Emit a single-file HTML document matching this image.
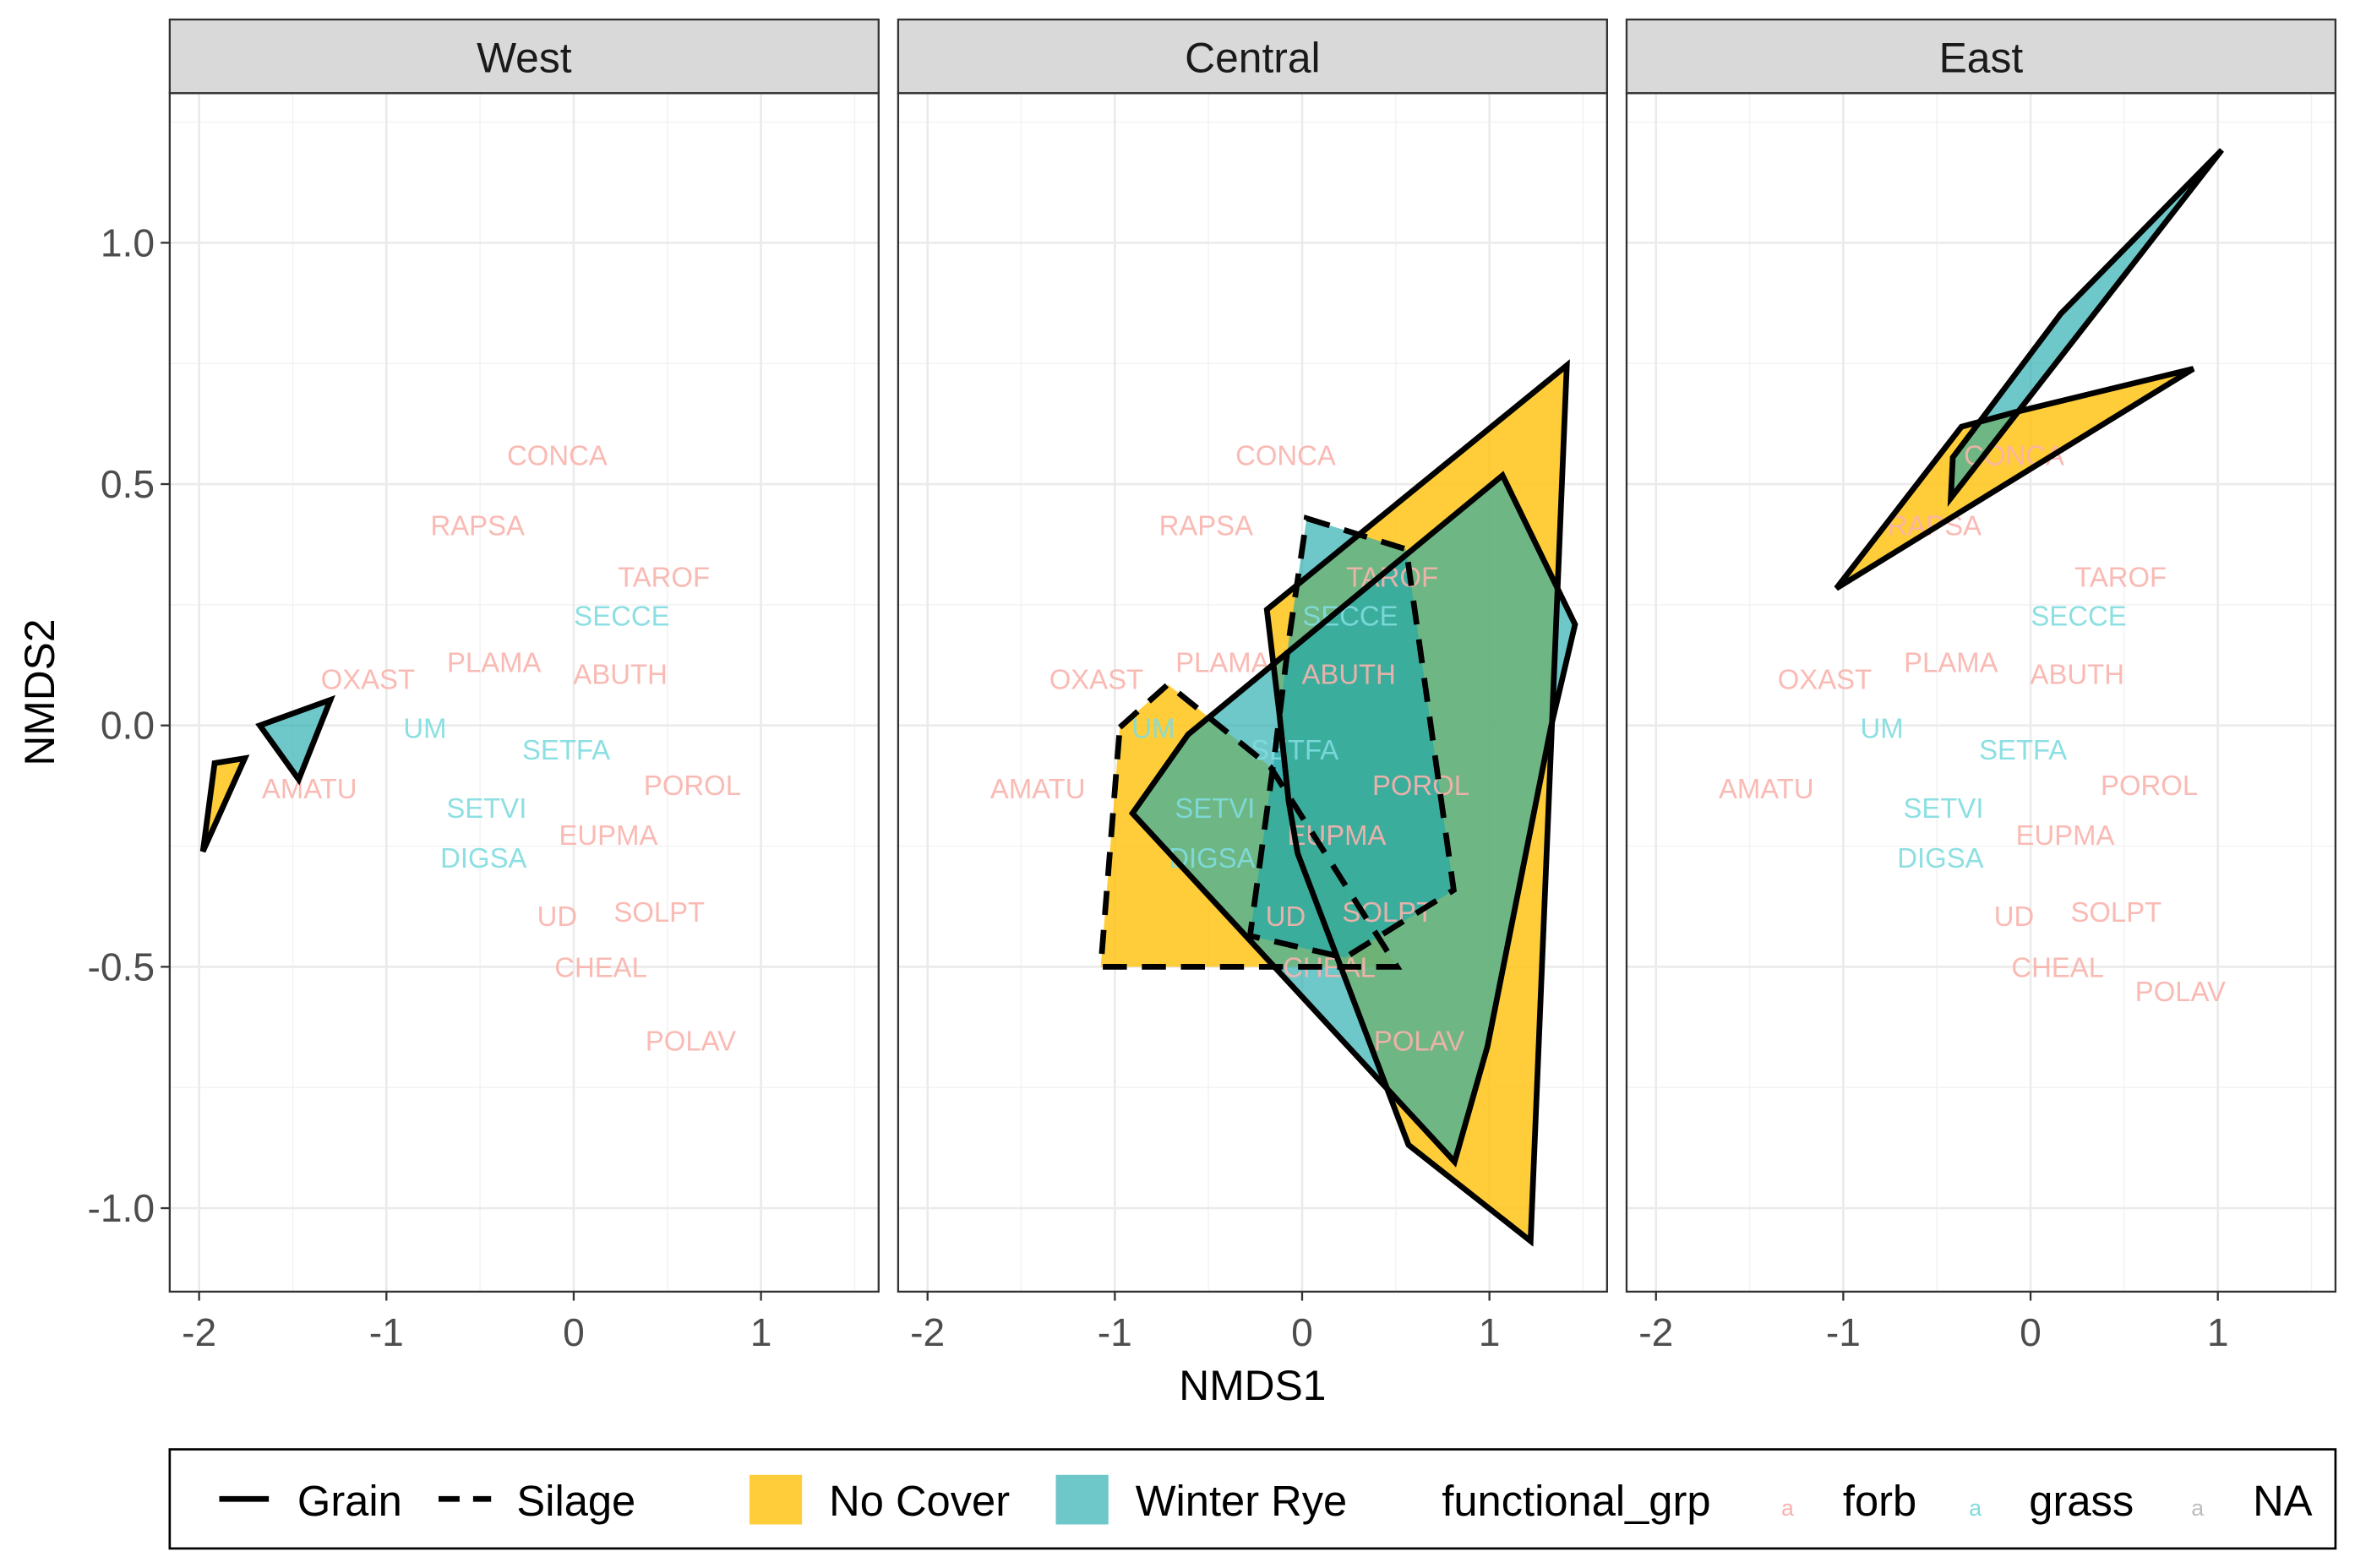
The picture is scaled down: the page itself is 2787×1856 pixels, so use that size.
<!DOCTYPE html>
<html><head><meta charset="utf-8"><style>
html,body{margin:0;padding:0;background:#fff}
svg{display:block}
text{font-family:"Liberation Sans",Arial,sans-serif}
</style></head><body>
<svg id="chart" width="2787" height="1856" viewBox="0 0 1568 1044" preserveAspectRatio="none" xmlns="http://www.w3.org/2000/svg">
<rect x="0" y="0" width="1568" height="1044" fill="#fff"/>
</svg>
<script>
// ---- data ----
const panels = ["West","Central","East"];
const xTicks = [-2,-1,0,1];
const xTickLabels = ["-2","-1","0","1"];
const yTicks = [1.0,0.5,0.0,-0.5,-1.0];
const yTickLabels = ["1.0","0.5","0.0","-0.5","-1.0"];
const speciesNames = ["CONCA","RAPSA","TAROF","SECCE","PLAMA","ABUTH","OXAST","UM","SETFA","AMATU","POROL","SETVI","EUPMA","DIGSA","UD","SOLPT","CHEAL","POLAV"];
const speciesX = [-0.088,-0.513,0.481,0.257,-0.425,0.249,-1.099,-0.794,-0.04,-1.411,0.634,-0.465,0.185,-0.481,-0.088,0.457,0.145,0.625];
const speciesY = [0.56,0.414,0.308,0.227,0.131,0.106,0.096,-0.006,-0.05,-0.131,-0.124,-0.171,-0.227,-0.274,-0.395,-0.386,-0.501,-0.653];
const speciesGroup = ["forb","forb","forb","grass","forb","forb","forb","grass","grass","forb","forb","grass","forb","grass","forb","forb","forb","forb"];
const eastPolavX = 0.8;
const eastPolavY = -0.551;
const westGrainNoCoverX = [-1.98,-1.917,-1.756];
const westGrainNoCoverY = [-0.261,-0.078,-0.068];
const westGrainRyeX = [-1.676,-1.299,-1.468];
const westGrainRyeY = [0,0.053,-0.112];
const centralGrainNoCoverX = [-0.188,1.413,1.22,0.568,-0.024,-0.072,-0.121];
const centralGrainNoCoverY = [0.24,0.746,-1.068,-0.869,-0.265,-0.157,0.022];
const centralGrainRyeX = [-0.609,1.07,1.457,1.328,0.99,0.814,-0.906];
const centralGrainRyeY = [-0.019,0.518,0.209,-0.004,-0.665,-0.904,-0.182];
const centralSilageNoCoverX = [-0.973,-0.717,-0.169,0.507,-1.075];
const centralSilageNoCoverY = [-0.004,0.085,-0.086,-0.5,-0.5];
const centralSilageRyeX = [0.024,0.556,0.809,0.229,-0.278,-0.145,-0.072];
const centralSilageRyeY = [0.429,0.365,-0.341,-0.481,-0.436,-0.055,0.174];
const eastGrainNoCoverX = [-1.037,-0.369,-0.081,0.869];
const eastGrainNoCoverY = [0.284,0.619,0.649,0.739];
const eastGrainRyeX = [-0.426,-0.415,0.161,1.021];
const eastGrainRyeY = [0.471,0.555,0.853,1.192];

const hulls = [
 {p:0,till:"Grain",cover:"No Cover",xs:westGrainNoCoverX,ys:westGrainNoCoverY,name:"west-grain-no-cover-hull"},
 {p:0,till:"Grain",cover:"Winter Rye",xs:westGrainRyeX,ys:westGrainRyeY,name:"west-grain-winter-rye-hull"},
 {p:1,till:"Grain",cover:"No Cover",xs:centralGrainNoCoverX,ys:centralGrainNoCoverY,name:"central-grain-no-cover-hull"},
 {p:1,till:"Silage",cover:"No Cover",xs:centralSilageNoCoverX,ys:centralSilageNoCoverY,name:"central-silage-no-cover-hull"},
 {p:1,till:"Silage",cover:"Winter Rye",xs:centralSilageRyeX,ys:centralSilageRyeY,name:"central-silage-winter-rye-hull"},
 {p:1,till:"Grain",cover:"Winter Rye",xs:centralGrainRyeX,ys:centralGrainRyeY,name:"central-grain-winter-rye-hull"},
 {p:2,till:"Grain",cover:"No Cover",xs:eastGrainNoCoverX,ys:eastGrainNoCoverY,name:"east-grain-no-cover-hull"},
 {p:2,till:"Grain",cover:"Winter Rye",xs:eastGrainRyeX,ys:eastGrainRyeY,name:"east-grain-winter-rye-hull"}
];

// ---- layout ----
const NS="http://www.w3.org/2000/svg";
const svg=document.getElementById('chart');
const panelLeft=[113,598,1083], panelW=472, plotTop=62, plotBottom=860;
const xMin=-2.157, xMax=1.628, yMin=-1.173, yMax=1.31;
function sx(p,v){return panelLeft[p]+(v-xMin)/(xMax-xMin)*panelW;}
function sy(v){return plotBottom-(v-yMin)/(yMax-yMin)*(plotBottom-plotTop);}
function mk(tag,attrs,parent){const e=document.createElementNS(NS,tag);for(const k in attrs)e.setAttribute(k,attrs[k]);(parent||svg).appendChild(e);return e;}
const fillCol={"No Cover":"#FFC20E","Winter Rye":"#21A9AB"};
const fillOp={"No Cover":0.82,"Winter Rye":0.65};
const labCol={forb:"#F9B2AC",grass:"#7FDCDF"};

panels.forEach((name,p)=>{
  const g=mk('g',{});
  
  
  const L=panelLeft[p];
  [-1.5,-0.5,0.5,1.5].forEach(v=>{const l=mk('line',{x1:sx(p,v),x2:sx(p,v),y1:plotTop,y2:plotBottom,stroke:'#F2F2F2','stroke-width':0.8},g);
    });
  [1.25,0.75,0.25,-0.25,-0.75].forEach(v=>{const l=mk('line',{x1:L,x2:L+panelW,y1:sy(v),y2:sy(v),stroke:'#F2F2F2','stroke-width':0.8},g);
    });
  xTicks.forEach(v=>{const l=mk('line',{x1:sx(p,v),x2:sx(p,v),y1:plotTop,y2:plotBottom,stroke:'#EBEBEB','stroke-width':1.5},g);
    });
  yTicks.forEach(v=>{const l=mk('line',{x1:L,x2:L+panelW,y1:sy(v),y2:sy(v),stroke:'#EBEBEB','stroke-width':1.5},g);
    });
  const ph=hulls.filter(h=>h.p===p);
  const pts=h=>h.xs.map((v,i)=>sx(p,v).toFixed(1)+','+sy(h.ys[i]).toFixed(1)).join(' ');
  ph.forEach(h=>{
    const pg=mk('polygon',{points:pts(h),fill:fillCol[h.cover],'fill-opacity':fillOp[h.cover],stroke:'none'},g);
    
    
  });
  speciesNames.forEach((s,i)=>{
    let x=speciesX[i], y=speciesY[i];
    if(p===2 && s==="POLAV"){x=eastPolavX;y=eastPolavY;}
    const t=mk('text',{x:sx(p,x),y:sy(y)+6.5,'text-anchor':'middle','font-size':18.5,fill:labCol[speciesGroup[i]],'fill-opacity':0.9},g);
    t.textContent=s;
    
    
  });
  ph.forEach(h=>{
    const a={points:pts(h),fill:'none',stroke:'#000','stroke-width':3.8,'stroke-linejoin':'miter'};
    if(h.till==="Silage")a['stroke-dasharray']='16,10';
    const pg=mk('polygon',a,g);
    
    
  });
  const b=mk('rect',{x:L,y:plotTop,width:panelW,height:plotBottom-plotTop,fill:'none',stroke:'#333','stroke-width':1.3},g);
  
  const st=mk('rect',{x:L,y:13,width:panelW,height:49,fill:'#D9D9D9',stroke:'#333','stroke-width':1.3},g);
  
  const stt=mk('text',{x:L+panelW/2,y:48,'text-anchor':'middle','font-size':28,fill:'#1A1A1A'},g);
  stt.textContent=name;
  
  xTicks.forEach((v,i)=>{
    const tk=mk('line',{x1:sx(p,v),x2:sx(p,v),y1:plotBottom,y2:plotBottom+6,stroke:'#333','stroke-width':1.3},g);
    
    const t=mk('text',{x:sx(p,v),y:plotBottom+36,'text-anchor':'middle','font-size':26,fill:'#4D4D4D'},g);
    t.textContent=xTickLabels[i];
    
  });
  if(p===0){
    yTicks.forEach((v,i)=>{
      const tk=mk('line',{x1:L-6,x2:L,y1:sy(v),y2:sy(v),stroke:'#333','stroke-width':1.3},g);
      
      const t=mk('text',{x:L-10,y:sy(v)+9,'text-anchor':'end','font-size':26,fill:'#4D4D4D'},g);
      t.textContent=yTickLabels[i];
      
    });
  }
});
const xt=mk('text',{x:834,y:932,'text-anchor':'middle','font-size':28,fill:'#000'});
xt.textContent="NMDS1";

const yt=mk('text',{x:0,y:0,'text-anchor':'middle','font-size':28,fill:'#000',transform:'translate(36,461) rotate(-90)'});
yt.textContent="NMDS2";


const lg=mk('g',{});

const lb=mk('rect',{x:113,y:965,width:1442,height:66,fill:'#fff',stroke:'#000','stroke-width':1.5},lg);

function ltext(x,s,name,col,size){const t=mk('text',{x:x,y:1009,'font-size':size||28.5,fill:col||'#000'},lg);t.textContent=s;
  return t;}
const l1=mk('line',{x1:146,x2:179,y1:998,y2:998,stroke:'#000','stroke-width':3.8},lg);

ltext(198,"Grain","legend-label-grain");
const l2=mk('line',{x1:292,x2:327,y1:998,y2:998,stroke:'#000','stroke-width':3.8,'stroke-dasharray':'14,9'},lg);

ltext(344,"Silage","legend-label-silage");
const k1=mk('rect',{x:499,y:982,width:35,height:33,fill:'#FFC20E','fill-opacity':0.82},lg);

ltext(552,"No Cover","legend-label-no-cover");
const k2=mk('rect',{x:703,y:982,width:35,height:33,fill:'#21A9AB','fill-opacity':0.65},lg);

ltext(756,"Winter Rye","legend-label-winter-rye");
ltext(960,"functional_grp","legend-title-functional-grp");
ltext(1186,"a","legend-key-forb","#F9B2AC",15);
ltext(1227,"forb","legend-label-forb");
ltext(1311,"a","legend-key-grass","#7FDCDF",15);
ltext(1351,"grass","legend-label-grass");
ltext(1459,"a","legend-key-na","#BDBDBD",15);
ltext(1500,"NA","legend-label-na");
</script>
</body></html>
